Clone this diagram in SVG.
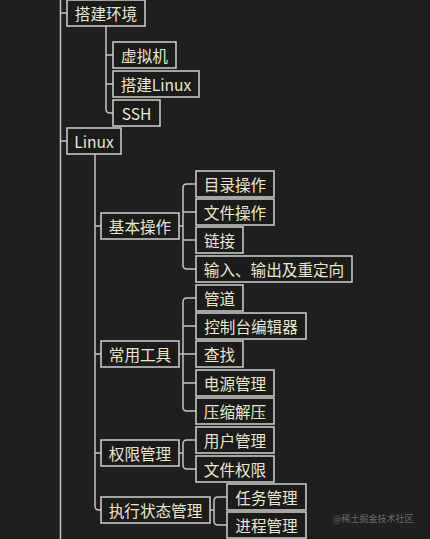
<svg xmlns="http://www.w3.org/2000/svg" width="430" height="539" viewBox="0 0 430 539">
<style>
.b{fill:#1b1b1b;stroke:#d2d2cc;stroke-width:1.5}
.t{font-family:"Noto Sans CJK SC","Noto Sans",sans-serif;font-size:15.6px;fill:#ebe7cc;text-anchor:middle;dominant-baseline:central}
.c{fill:none;stroke:#c4c4c0;stroke-width:1.5}
.w{font-family:"Noto Sans CJK SC",sans-serif;font-size:9px;fill:#6c6c6c;dominant-baseline:central}
</style>
<rect width="430" height="539" fill="#1f1f1f"/>
<g id="connectors">
<path class="c" d="M60.5,0 V539"/>
<path class="c" d="M60.5,13 H67 M60.5,141 H67"/>
<path class="c" d="M106,26 V109 q0,4 4,4 H113 M106,55 H113 M106,84 H113"/>
<path class="c" d="M95,154 V506 q0,4 4,4 H101 M95,226 H101 M95,354 H101 M95,453 H101"/>
<path class="c" d="M179,226 H183 M196,184 H187 q-4,0 -4,4 V265 q0,4 4,4 H196 M183,212 H196 M183,240 H196"/>
<path class="c" d="M179,354 H183 M196,298 H187 q-4,0 -4,4 V407 q0,4 4,4 H196 M183,326 H196 M183,354 H196 M183,383 H196"/>
<path class="c" d="M179,453 H183 M196,440 H187 q-4,0 -4,4 V465 q0,4 4,4 H196"/>
<path class="c" d="M210,510 H214 M227,497 H218 q-4,0 -4,4 V521 q0,4 4,4 H227"/>
</g>
<g id="n-env"><rect class="b" x="67" y="0" width="78" height="26"/><text class="t" x="106" y="13">搭建环境</text></g>
<g id="n-vm"><rect class="b" x="113" y="42" width="63" height="26"/><text class="t" x="144.5" y="55">虚拟机</text></g>
<g id="n-buildlinux"><rect class="b" x="113" y="71" width="86" height="26"/><text class="t" x="156" y="84">搭建Linux</text></g>
<g id="n-ssh"><rect class="b" x="113" y="100" width="47" height="26"/><text class="t" x="136.5" y="113">SSH</text></g>
<g id="n-linux"><rect class="b" x="67" y="128" width="54" height="26"/><text class="t" x="94" y="141">Linux</text></g>
<g id="n-basic"><rect class="b" x="101" y="213" width="78" height="26"/><text class="t" x="140" y="226">基本操作</text></g>
<g id="n-dir"><rect class="b" x="196" y="171" width="78" height="26"/><text class="t" x="235" y="184">目录操作</text></g>
<g id="n-file"><rect class="b" x="196" y="199" width="78" height="26"/><text class="t" x="235" y="212">文件操作</text></g>
<g id="n-link"><rect class="b" x="196" y="227" width="47" height="26"/><text class="t" x="219.5" y="240">链接</text></g>
<g id="n-io"><rect class="b" x="196" y="256" width="156" height="26"/><text class="t" x="274" y="269">输入、输出及重定向</text></g>
<g id="n-tools"><rect class="b" x="101" y="341" width="78" height="26"/><text class="t" x="140" y="354">常用工具</text></g>
<g id="n-pipe"><rect class="b" x="196" y="285" width="47" height="26"/><text class="t" x="219.5" y="298">管道</text></g>
<g id="n-editor"><rect class="b" x="196" y="313" width="110" height="26"/><text class="t" x="251" y="326">控制台编辑器</text></g>
<g id="n-find"><rect class="b" x="196" y="341" width="47" height="26"/><text class="t" x="219.5" y="354">查找</text></g>
<g id="n-power"><rect class="b" x="196" y="370" width="78" height="26"/><text class="t" x="235" y="383">电源管理</text></g>
<g id="n-zip"><rect class="b" x="196" y="398" width="78" height="26"/><text class="t" x="235" y="411">压缩解压</text></g>
<g id="n-perm"><rect class="b" x="101" y="440" width="78" height="26"/><text class="t" x="140" y="453">权限管理</text></g>
<g id="n-user"><rect class="b" x="196" y="427" width="78" height="26"/><text class="t" x="235" y="440">用户管理</text></g>
<g id="n-fperm"><rect class="b" x="196" y="456" width="78" height="26"/><text class="t" x="235" y="469">文件权限</text></g>
<g id="n-exec"><rect class="b" x="101" y="497" width="109" height="26"/><text class="t" x="155.5" y="510">执行状态管理</text></g>
<g id="n-task"><rect class="b" x="227" y="484" width="79" height="26"/><text class="t" x="266.5" y="497">任务管理</text></g>
<g id="n-proc"><rect class="b" x="227" y="512" width="79" height="26"/><text class="t" x="266.5" y="525">进程管理</text></g>
<text class="w" x="333" y="518">@稀土掘金技术社区</text>
</svg>
